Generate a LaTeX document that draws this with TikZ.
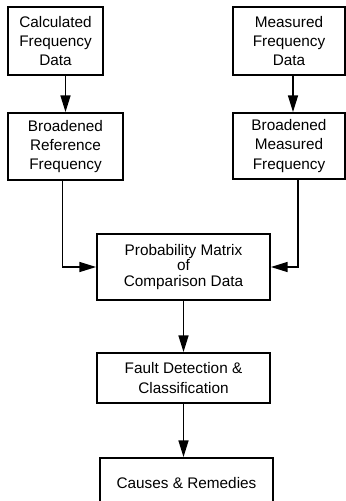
\documentclass[tikz,border=0pt]{standalone}
\usepackage{fontspec}
\setmainfont{Liberation Sans}
\usetikzlibrary{arrows.meta}
\tikzset{
  block/.style={draw, line width=1.4pt, align=center, inner sep=0pt,
    font=\fontsize{11.5}{14.4}\selectfont},
  flow/.style={line width=1pt, -{Triangle[length=12.5pt,width=7.5pt]}}
}

\begin{document}
\begin{tikzpicture}[x=0.75pt, y=-0.75pt]
	\useasboundingbox (0,0) rectangle (346,501);
	\clip (0,0) rectangle (346,501);

	%top row
	\node[block, minimum width=71.25pt, minimum height=51pt] (calc) at (55.5,41)
		{Calculated\\Frequency\\Data};
	\node[block, minimum width=84pt, minimum height=51pt] (meas) at (289,41)
		{Measured\\Frequency\\Data};

	%broadened
	\node[block, minimum width=86.25pt, minimum height=50.25pt] (bref) at (65.5,146.5)
		{Broadened\\Reference\\Frequency};
	\node[block, minimum width=84pt, minimum height=49.5pt] (bmeas) at (289,146)
		{Broadened\\Measured\\Frequency};

	%comparison
	\node[block, minimum width=129.75pt, minimum height=49.5pt,
		font=\fontsize{11.5}{11.6}\selectfont] (prob) at (183.5,267)
		{Probability Matrix\\of\\Comparison Data};

	%detection
	\node[block, minimum width=129.75pt, minimum height=37.5pt] (fault) at (183.5,378)
		{Fault Detection \&\\Classification};
	\node[block, minimum width=129.75pt, minimum height=37.5pt] (cause) at (186.5,483)
		{Causes \& Remedies};

	%connectors
	\draw[flow] (calc.south -| bref.north) -- (bref.north);
	\draw[flow] ([xshift=3pt]meas.south) -- ([xshift=3pt]bmeas.north);
	\draw[flow] ([xshift=-2.5pt]bref.south) |- (prob.west);
	\draw[flow] ([xshift=6.75pt]bmeas.south) |- (prob.east);
	\draw[flow] (prob.south) -- (fault.north);
	\draw[flow] (fault.south) -- (fault.south |- cause.north);
\end{tikzpicture}
\end{document}
